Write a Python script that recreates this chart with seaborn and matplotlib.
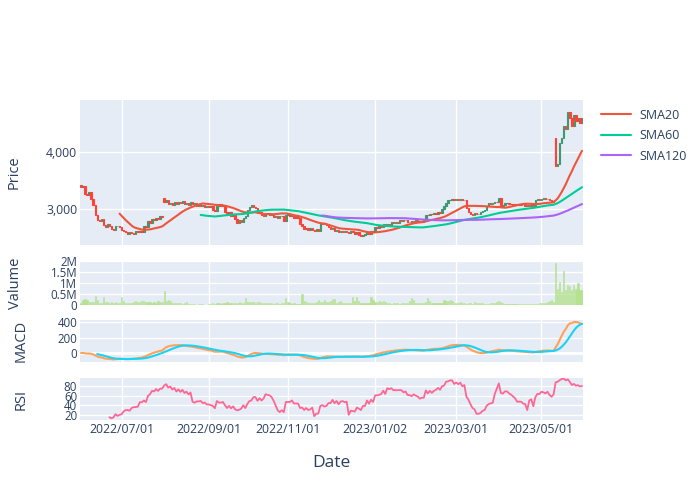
import numpy as np
import pandas as pd
import seaborn as sns
import matplotlib.pyplot as plt
from matplotlib.ticker import FuncFormatter

# ── Data ──────────────────────────────────────────────────────────────────────
closes = [
    3390, 3410, 3260, 3240, 3290, 3180, 3070, 2890, 2810, 2790,
    2830, 2720, 2680, 2730, 2700, 2650, 2630, 2700, 2710, 2690,
    2630, 2610, 2590, 2570, 2600, 2580, 2560, 2610, 2590, 2620,
    2600, 2700, 2680, 2790, 2760, 2830, 2800, 2850, 2830, 2880,
    2860, 3120, 3150, 3080, 3110, 3070, 3120, 3080, 3130, 3100,
    3140, 3090, 3110, 3070, 3120, 3090, 3100, 3060, 3090, 3060,
    3070, 3040, 3060, 3030, 3060, 2990, 2970, 3060, 3080, 3050,
    3070, 2950, 2920, 2940, 2880, 2900, 2830, 2760, 2800, 2780,
    2840, 2870, 2980, 3030, 3070, 3040, 3010, 2930, 2940, 2900,
    2880, 2910, 2930, 2900, 2910, 2860, 2880, 2850, 2870, 2880,
    2790, 2900, 2910, 2870, 2880, 2850, 2870, 2840, 2730, 2700,
    2650, 2670, 2640, 2660, 2630, 2610, 2650, 2620, 2750, 2740,
    2730, 2720, 2680, 2650, 2660, 2620, 2630, 2590, 2610, 2600,
    2620, 2600, 2580, 2610, 2590, 2570, 2590, 2540, 2530, 2550,
    2560, 2590, 2570, 2610, 2600, 2680, 2660, 2700, 2690, 2730,
    2700, 2740, 2720, 2770, 2750, 2780, 2760, 2800, 2790, 2810,
    2800, 2780, 2770, 2790, 2780, 2800, 2770, 2790, 2780, 2810,
    2900, 2890, 2920, 2910, 2930, 2920, 2940, 2930, 3000, 3050,
    3100, 3150, 3160, 3170, 3150, 3170, 3160, 3180, 3150, 3160,
    3020, 2950, 2920, 2900, 2930, 2910, 2920, 2940, 2960, 2990,
    3050, 3100, 3090, 3110, 3130, 3120, 3200, 3060, 3070, 3100,
    3110, 3090, 3080, 3070, 3090, 3080, 3070, 3090, 3080, 3060,
    3070, 3060, 3080, 3050, 3150, 3170, 3160, 3180, 3190, 3170,
    3180, 3160, 3130, 3140, 3750, 3790, 4150, 4250, 4450, 4400,
    4700, 4600, 4450, 4650, 4550, 4600, 4500, 4600,
]
gap_opens = {0: 3420, 41: 3200, 234: 4250}

volumes_k = [
    100, 250, 260, 240, 130, 140, 150, 400, 250, 80,
    90, 350, 120, 130, 110, 120, 100, 140, 90, 110,
    350, 200, 90, 80, 70, 100, 150, 200, 120, 140,
    160, 200, 130, 120, 140, 110, 130, 100, 200, 120,
    130, 620, 200, 210, 190, 90, 80, 70, 80, 90,
    60, 80, 150, 40, 30, 30, 40, 20, 40, 50,
    50, 20, 20, 30, 60, 70, 60, 80, 70, 60,
    70, 80, 150, 110, 100, 90, 110, 100, 120, 100,
    110, 300, 130, 150, 120, 140, 110, 150, 120, 100,
    80, 90, 70, 80, 90, 60, 70, 80, 60, 90,
    100, 300, 130, 80, 60, 70, 60, 50, 60, 480,
    200, 130, 90, 80, 90, 100, 150, 250, 120, 150,
    250, 130, 140, 160, 280, 270, 100, 120, 170, 90,
    80, 70, 90, 80, 350, 160, 350, 200, 110, 90,
    80, 90, 100, 350, 220, 120, 140, 160, 130, 170,
    120, 80, 70, 60, 80, 90, 70, 60, 80, 70,
    90, 70, 200, 300, 250, 100, 80, 90, 70, 80,
    120, 300, 170, 100, 90, 80, 70, 90, 100, 250,
    200, 180, 220, 160, 100, 90, 80, 120, 100, 90,
    60, 70, 80, 60, 150, 80, 70, 110, 80, 60,
    50, 60, 70, 90, 100, 120, 200, 130, 80, 50,
    40, 30, 30, 40, 30, 30, 30, 40, 30, 30,
    40, 50, 40, 50, 60, 40, 70, 80, 100, 110,
    140, 200, 220, 130, 1900, 750, 1050, 600, 1550, 700,
    900, 850, 700, 900, 750, 1000, 700, 700,
]

krx_holidays = [
    "2022-06-06", "2022-08-15", "2022-09-09", "2022-09-12", "2022-10-03",
    "2022-10-10", "2022-12-30", "2023-01-23", "2023-01-24", "2023-03-01",
    "2023-05-01", "2023-05-05", "2023-05-29",
]
tick_dates = ["2022-07-01", "2022-09-01", "2022-11-01", "2023-01-02", "2023-03-01", "2023-05-01"]
tick_labels = ["2022/07/01", "2022/09/01", "2022/11/01", "2023/01/02", "2023/03/01", "2023/05/01"]

# ── Plot settings (plotly-like look) ──────────────────────────────────────────
TXT = "#2a3f5f"
sns.set_theme(style="darkgrid", rc={
    "axes.facecolor": "#E5ECF6",
    "grid.color": "white",
    "grid.linewidth": 1.0,
    "axes.edgecolor": "white",
    "xtick.color": TXT,
    "ytick.color": TXT,
    "axes.labelcolor": TXT,
    "text.color": TXT,
    "xtick.major.size": 0,
    "ytick.major.size": 0,
})
plt.rcParams["font.family"] = ["Open Sans", "DejaVu Sans"]

# ── Build frame and indicators ────────────────────────────────────────────────
df = pd.DataFrame({"Close": closes, "Volume": np.array(volumes_k) * 1000})
df["Date"] = pd.bdate_range("2022-06-02", periods=len(df), freq="C", holidays=krx_holidays)
df["x"] = np.arange(len(df))
df["Open"] = df["Close"].shift(1)
for k, v in gap_opens.items():
    df.loc[k, "Open"] = v

df["SMA20"] = df["Close"].rolling(20).mean()
df["SMA60"] = df["Close"].rolling(60).mean()
df["SMA120"] = df["Close"].rolling(120).mean()

ema12 = df["Close"].ewm(span=12).mean()
ema26 = df["Close"].ewm(span=26).mean()
df["MACD"] = ema12 - ema26
df["Signal"] = df["MACD"].rolling(9).mean()

delta = df["Close"].diff()
gain = delta.clip(lower=0).rolling(14).mean()
loss = (-delta.clip(upper=0)).rolling(14).mean()
df["RSI"] = 100 - 100 / (1 + gain / loss)

tick_pos = np.searchsorted(df["Date"].values, pd.to_datetime(tick_dates).values)

# ── Figure ────────────────────────────────────────────────────────────────────
fig = plt.figure(figsize=(7, 5), dpi=100)
L, W = 80 / 700, 503 / 700
ax_p = fig.add_axes([L, 1 - 245 / 500, W, 145 / 500])
ax_v = fig.add_axes([L, 1 - 305 / 500, W, 44 / 500])
ax_m = fig.add_axes([L, 1 - 362 / 500, W, 42 / 500])
ax_r = fig.add_axes([L, 1 - 420 / 500, W, 42 / 500])
axes = [ax_p, ax_v, ax_m, ax_r]

# candlesticks (body only)
up = df["Close"] >= df["Open"]
for mask, col in [(up, "#3D9970"), (~up, "#FF4136")]:
    d = df[mask]
    body = d["Close"] - d["Open"]
    body = body.where(body.abs() > 10, np.where(body >= 0, 10, -10))
    ax_p.bar(d["x"], body, bottom=d["Open"], width=0.7, color=col,
             edgecolor=col, linewidth=0.8, zorder=3)

sns.lineplot(data=df, x="x", y="SMA20", ax=ax_p, color="#EF553B", lw=1.5, label="SMA20", zorder=4)
sns.lineplot(data=df, x="x", y="SMA60", ax=ax_p, color="#00CC96", lw=1.5, label="SMA60", zorder=4)
sns.lineplot(data=df, x="x", y="SMA120", ax=ax_p, color="#AB63FA", lw=1.5, label="SMA120", zorder=4)
ax_p.set_ylim(2370, 4910)
ax_p.set_yticks([3000, 4000])
ax_p.yaxis.set_major_formatter(FuncFormatter(lambda v, _: f"{v:,.0f}"))
ax_p.legend(loc="upper left", bbox_to_anchor=(1.025, 0.975), frameon=False,
            fontsize=9, handlelength=2.4, handletextpad=0.7, labelspacing=0.6,
            borderaxespad=0)

# volume
ax_v.bar(df["x"], df["Volume"], width=0.6, color="#b5e28f", edgecolor="#b5e28f",
         linewidth=0.4, zorder=3)
ax_v.set_ylim(0, 2.0e6)
ax_v.set_yticks([0, 0.5e6, 1e6, 1.5e6, 2e6])
ax_v.set_yticklabels(["0", "0.5M", "1M", "1.5M", "2M"])

# MACD
sns.lineplot(data=df, x="x", y="MACD", ax=ax_m, color="#FFA15A", lw=1.5, zorder=3)
sns.lineplot(data=df, x="x", y="Signal", ax=ax_m, color="#19D3F3", lw=1.5, zorder=4)
ax_m.axhline(0, color="white", lw=2, zorder=1)
ax_m.set_ylim(-116, 426)
ax_m.set_yticks([0, 200, 400])

# RSI
sns.lineplot(data=df, x="x", y="RSI", ax=ax_r, color="#FF6692", lw=1.3, zorder=3)
ax_r.set_ylim(10, 96)
ax_r.set_yticks([20, 40, 60, 80])

for ax, lab, lx in zip(axes, ["Price", "Valume", "MACD", "RSI"], [-0.117, -0.113, -0.103, -0.103]):
    ax.set_xlim(-0.5, len(df) - 0.5)
    ax.set_xticks(tick_pos)
    ax.set_xticklabels(tick_labels if ax is ax_r else [])
    ax.set_xlabel("")
    ax.set_ylabel(lab, fontsize=10.5)
    ax.yaxis.set_label_coords(lx, 0.5)
    ax.tick_params(axis="x", labelsize=8.8, pad=2)
    ax.tick_params(axis="y", labelsize=8.8 if ax is ax_p else 8.3, pad=2)
    for s in ax.spines.values():
        s.set_visible(False)
    ax.grid(True, color="white", lw=1)

ax_r.set_xlabel("Date", fontsize=12.5, labelpad=14)

plt.savefig("out.png", dpi=100)
plt.close()
print("Saved: out.png ✓")
